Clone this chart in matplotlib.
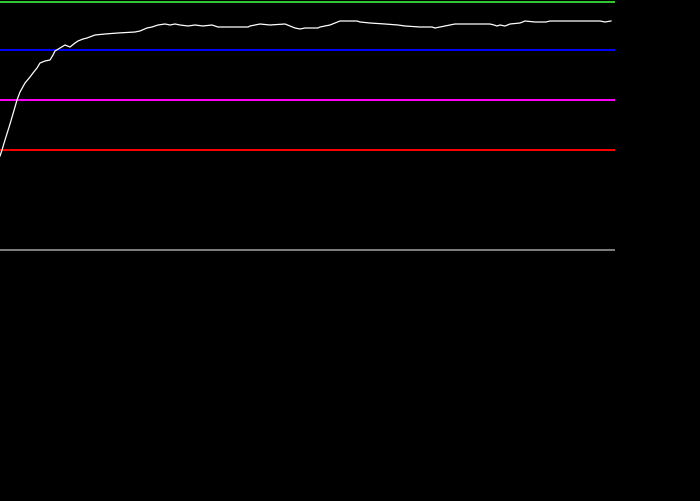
import matplotlib
matplotlib.use("Agg")
import matplotlib.pyplot as plt

# sample positions and values of the white series
x_pos = [0, 2, 5, 10, 15, 17, 20, 25, 30, 33, 37, 40, 45, 50, 53, 55, 60, 65, 70, 75,
         78, 83, 87, 95, 105, 118, 135, 140, 147, 152, 158, 165, 170, 175, 180, 188,
         195, 203, 212, 218, 248, 250, 255, 260, 270, 285, 290, 295, 300, 305, 318,
         320, 325, 330, 335, 340, 357, 360, 370, 385, 398, 405, 420, 432, 435, 440,
         445, 450, 455, 490, 494, 497, 500, 505, 510, 520, 525, 535, 546, 550, 600,
         605, 611]
y_px = [156, 150, 140, 124, 107, 100, 92, 83, 77, 73, 68, 63, 61, 60, 55, 51, 48, 45, 47, 43,
        41, 39, 38, 35, 34, 33, 32, 31, 28, 27, 25, 24, 25, 24, 25, 26,
        25, 26, 25, 27, 27, 26, 25, 24, 25, 24, 26, 28, 29, 28, 28,
        27, 26, 25, 23, 21, 21, 22, 23, 24, 25, 26, 27, 27, 28, 27,
        26, 25, 24, 24, 25, 26, 25, 26, 24, 23, 21, 22, 22, 21, 21,
        22, 21]
series = [250 - v for v in y_px]

# reference levels
ref_levels = [248.5, 200, 150, 100, 0]
ref_colors = ["#33cc33", "#0000ff", "#ff00ff", "#ff0000", "#808080"]
x_end = 615

fig = plt.figure(figsize=(7.0, 5.01), dpi=100, facecolor="black")
ax = fig.add_axes([0, 0, 1, 1])
ax.set_facecolor("black")
ax.set_xlim(0, 700)
ax.set_ylim(-251, 250)
ax.axis("off")

for lvl, c in zip(ref_levels, ref_colors):
    ax.hlines(lvl, 0, x_end, colors=c, linewidth=1.4)

ax.plot(x_pos, series, color="white", linewidth=0.9)

fig.savefig("out.png", dpi=100, facecolor="black")
